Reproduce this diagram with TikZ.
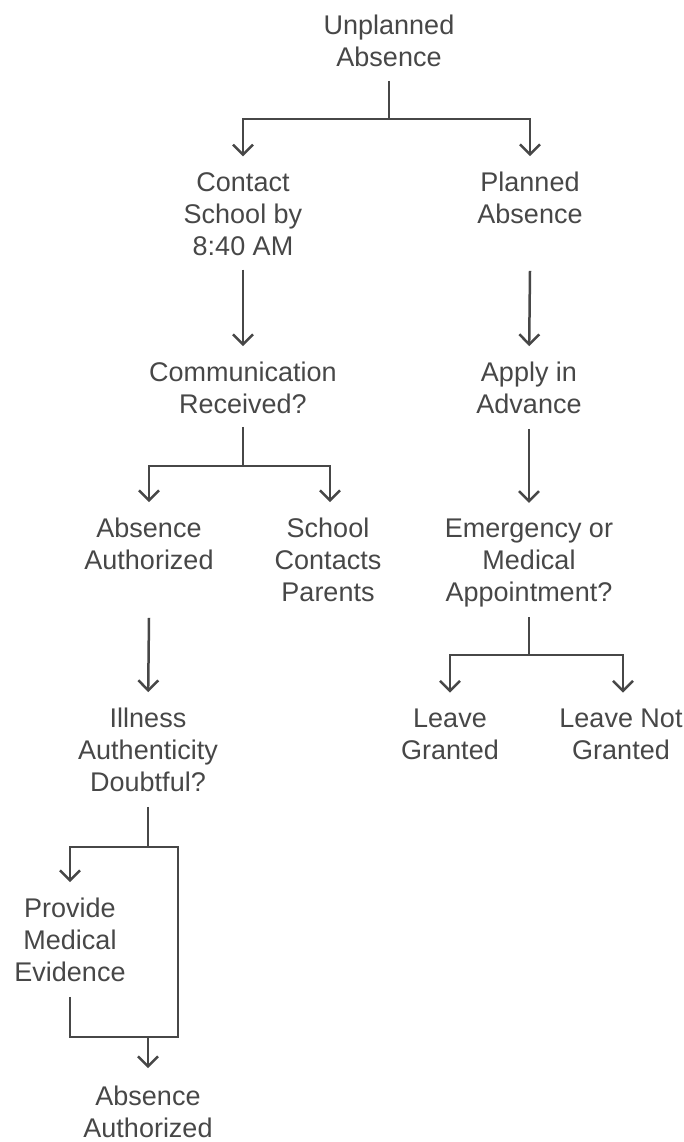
\documentclass[tikz,border=0pt]{standalone}
\usepackage{fontspec}
\setmainfont{Liberation Sans}
\usetikzlibrary{arrows.meta}
\definecolor{ink}{HTML}{474747}
\begin{document}
\begin{tikzpicture}[x=1pt,y=-1pt,
  lbl/.style={align=center, inner sep=0pt, outer sep=0pt, text=ink,
              font=\fontsize{27}{32}\selectfont},
  ln/.style={draw=ink, line width=2.5pt},
  arr/.style={ln, -{Straight Barb[length=10pt,width=20pt]}, shorten >=16pt},
]
\useasboundingbox (0,0) rectangle (683,1142);

% steps and outcomes
\node[lbl] (u)   at (389,41)  {Unplanned\\Absence};
\node[lbl] (c)   at (243,214) {Contact\\School by\\8:40 AM};
\node[lbl] (p)   at (530,198) {Planned\\Absence};
\node[lbl] (cr)  at (243,388) {Communication\\Received?};
\node[lbl] (ap)  at (529,388) {Apply in\\Advance};
\node[lbl] (aa)  at (149,544) {Absence\\Authorized};
\node[lbl] (sc)  at (328,560) {School\\Contacts\\Parents};
\node[lbl] (em)  at (529,563) {Emergency or\\Medical\\Appointment?};
\node[lbl] (il)  at (148,750) {Illness\\Authenticity\\Doubtful?};
\node[lbl] (lg)  at (450,734) {Leave\\Granted};
\node[lbl] (lng) at (621,734) {Leave Not\\Granted};
\node[lbl] (pm)  at (70,940)  {Provide\\Medical\\Evidence};
\node[lbl] (ab)  at (148,1112) {Absence\\Authorized};

% junction points of the forks
\coordinate (uf) at (389,119);
\coordinate (cf) at (243,466);
\coordinate (ef) at (529,655);
\coordinate (if) at (148,847);
\coordinate (bp) at (178,1037);
\coordinate (mj) at (148,1037);

% top fork
\draw[ln] ([yshift=-14pt]u.south) -- (uf);
\draw[arr] (uf) -| (c.north);
\draw[arr] (uf) -| (p.north);

% straight steps
\draw[arr] ([yshift=-14pt]c.south) -- (cr.north);
\draw[arr] ([yshift=-47pt]p.south) -- (ap.north);
\draw[arr] ([yshift=-15pt]ap.south) -- (em.north);
\draw[arr] ([yshift=-48pt]aa.south) -- (il.north);

% communication fork
\draw[ln] ([yshift=-13pt]cr.south) -- (cf);
\draw[arr] (cf) -| (aa.north);
\draw[arr] (cf) -| ([xshift=2pt]sc.north);

% leave fork
\draw[ln] ([yshift=-10pt]em.south) -- (ef);
\draw[arr] (ef) -| (lg.north);
\draw[arr] (ef) -| ([xshift=2pt]lng.north);

% illness fork with bypass
\draw[ln] ([yshift=-15pt]il.south) -- (if);
\draw[arr] (if) -| (pm.north);
\draw[ln] (if) -- (if -| bp) -- (bp) -- (mj);
\draw[ln] ([yshift=-15pt]pm.south) |- (mj);
\draw[arr] ([yshift=0pt]mj) -- ([yshift=2pt]ab.north);
\end{tikzpicture}
\end{document}
